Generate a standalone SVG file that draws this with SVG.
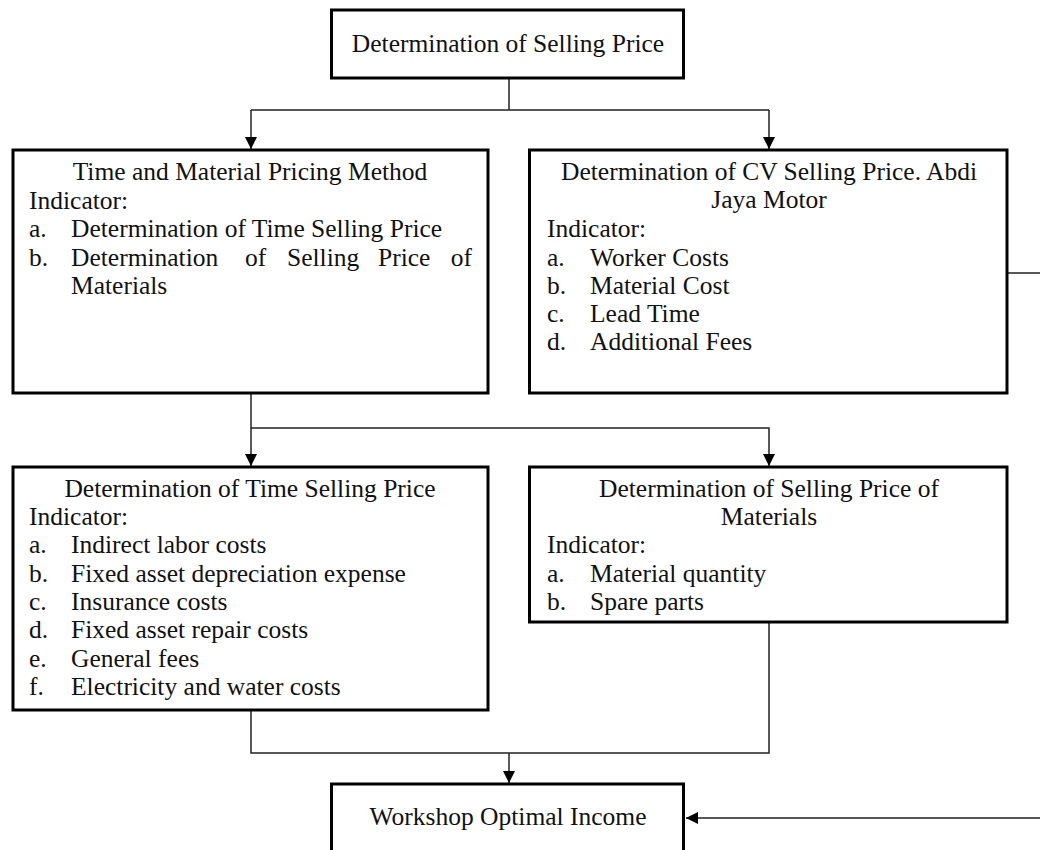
<svg xmlns="http://www.w3.org/2000/svg" width="1040" height="850" viewBox="0 0 1040 850">
<style>
.box{fill:#fff;stroke:#000;stroke-width:3}
.t{font-family:"Liberation Serif","Times New Roman",serif;font-size:25.5px;fill:#111}
.c{text-anchor:middle}
.ln{fill:none;stroke:#222;stroke-width:1.5}
</style>
<defs>
<marker id="arr" viewBox="0 0 12 12" refX="12" refY="6" markerWidth="12" markerHeight="12" markerUnits="userSpaceOnUse" orient="auto">
<path d="M0,0 L12,6 L0,12 z" fill="#000"/>
</marker>
</defs>
<rect width="1040" height="850" fill="#fff"/>
<g id="connectors">
<path class="ln" d="M509,79 V110 M251,110 H769"/>
<path class="ln" d="M251,110 V149" marker-end="url(#arr)"/>
<path class="ln" d="M769,110 V149" marker-end="url(#arr)"/>
<path class="ln" d="M251,394 V466" marker-end="url(#arr)"/>
<path class="ln" d="M251,428 H769 V466" marker-end="url(#arr)"/>
<path class="ln" d="M251,711 V753 H769 V623"/>
<path class="ln" d="M509,753 V783" marker-end="url(#arr)"/>
<path class="ln" d="M1008,273 H1050 V818 H686" marker-end="url(#arr)"/>
</g>
<g id="n-top">
<rect class="box" x="331.5" y="10" width="352" height="68"/>
<text class="t c" x="508" y="52">Determination of Selling Price</text>
</g>
<g id="n-time-material">
<rect class="box" x="13" y="150" width="475" height="243"/>
<text class="t c" x="250" y="180">Time and Material Pricing Method</text>
<text class="t" x="29" y="209">Indicator:</text>
<text class="t" x="29" y="237">a.</text>
<text class="t" x="71" y="237">Determination of Time Selling Price</text>
<text class="t" x="29" y="266">b.</text>
<text class="t" x="71" y="266">Determination</text>
<text class="t" x="245" y="266">of</text>
<text class="t" x="287" y="266">Selling</text>
<text class="t" x="378" y="266">Price</text>
<text class="t" x="472" y="266" text-anchor="end">of</text>
<text class="t" x="71" y="294">Materials</text>
</g>
<g id="n-cv">
<rect class="box" x="529.5" y="150" width="477.5" height="243"/>
<text class="t c" x="769" y="180">Determination of CV Selling Price. Abdi</text>
<text class="t c" x="769" y="208">Jaya Motor</text>
<text class="t" x="547" y="237">Indicator:</text>
<text class="t" x="547" y="266">a.</text>
<text class="t" x="590" y="266">Worker Costs</text>
<text class="t" x="547" y="294">b.</text>
<text class="t" x="590" y="294">Material Cost</text>
<text class="t" x="547" y="322">c.</text>
<text class="t" x="590" y="322">Lead Time</text>
<text class="t" x="547" y="350">d.</text>
<text class="t" x="590" y="350">Additional Fees</text>
</g>
<g id="n-time-price">
<rect class="box" x="13" y="467" width="475" height="243"/>
<text class="t c" x="250" y="497">Determination of Time Selling Price</text>
<text class="t" x="29" y="525">Indicator:</text>
<text class="t" x="29" y="553">a.</text>
<text class="t" x="71" y="553">Indirect labor costs</text>
<text class="t" x="29" y="582">b.</text>
<text class="t" x="71" y="582">Fixed asset depreciation expense</text>
<text class="t" x="29" y="610">c.</text>
<text class="t" x="71" y="610">Insurance costs</text>
<text class="t" x="29" y="638">d.</text>
<text class="t" x="71" y="638">Fixed asset repair costs</text>
<text class="t" x="29" y="667">e.</text>
<text class="t" x="71" y="667">General fees</text>
<text class="t" x="29" y="695">f.</text>
<text class="t" x="71" y="695">Electricity and water costs</text>
</g>
<g id="n-materials">
<rect class="box" x="529.5" y="467" width="477.5" height="155"/>
<text class="t c" x="769" y="497">Determination of Selling Price of</text>
<text class="t c" x="769" y="525">Materials</text>
<text class="t" x="547" y="553">Indicator:</text>
<text class="t" x="547" y="582">a.</text>
<text class="t" x="590" y="582">Material quantity</text>
<text class="t" x="547" y="610">b.</text>
<text class="t" x="590" y="610">Spare parts</text>
</g>
<g id="n-income">
<rect class="box" x="331.5" y="784" width="352" height="90"/>
<text class="t c" x="508" y="825">Workshop Optimal Income</text>
</g>
</svg>
